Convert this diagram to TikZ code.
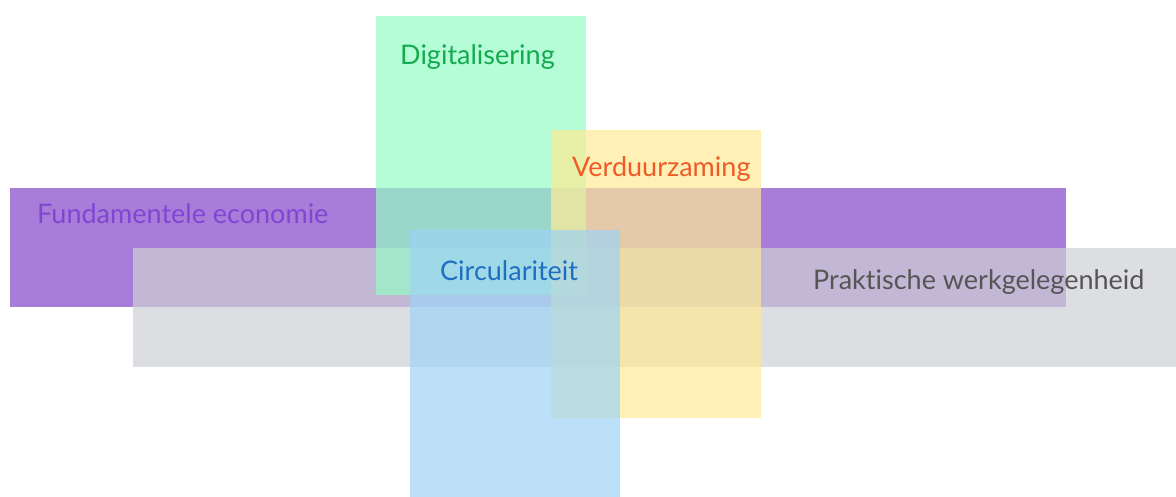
\documentclass[tikz,border=0pt]{standalone}
\usepackage{fontspec}
\setmainfont{Lato}[Ligatures=NoCommon]
\definecolor{paars}{RGB}{168,125,218}
\definecolor{grijs}{RGB}{206,208,212}
\definecolor{groen}{RGB}{149,252,196}
\definecolor{geel}{RGB}{255,235,149}
\definecolor{blauw}{RGB}{159,211,245}
\definecolor{tgroen}{RGB}{20,170,80}
\definecolor{toranje}{RGB}{240,90,40}
\definecolor{tpaars}{RGB}{128,70,210}
\definecolor{tblauw}{RGB}{30,110,195}
\definecolor{tgrijs}{RGB}{85,85,85}

\begin{document}
\begin{tikzpicture}[x=1pt,y=-1pt]
	\tikzstyle{vlak}=[inner sep=0pt,outer sep=0pt,anchor=north west,fill opacity=0.7]
	\tikzstyle{tekst}=[inner sep=0pt,anchor=base west,font=\fontsize{27}{31}\selectfont]

	\useasboundingbox (0,0) rectangle (1176,497);

	% vlakken, van onder naar boven
	\node [vlak,fill=paars,fill opacity=1,minimum width=1056pt,minimum height=119pt] (fund) at (10,188) {};
	\node [vlak,fill=grijs,minimum width=1043pt,minimum height=119pt] (prak) at (133,248) {};
	\node [vlak,fill=groen,minimum width=210pt,minimum height=279pt] (digi) at (376,16) {};
	\node [vlak,fill=geel,minimum width=210pt,minimum height=288pt] (verd) at (551,130) {};
	\node [vlak,fill=blauw,minimum width=210pt,minimum height=267pt] (circ) at (410,230) {};

	% teksten
	\node [tekst,text=tgroen] (tdigi) at (400,65) {Digitalisering};
	\node [tekst,text=toranje] (tverd) at (572,177) {Verduurzaming};
	\node [tekst,text=tpaars] (tfund) at (37,224) {Fundamentele economie};
	\node [tekst,text=tblauw] (tcirc) at (440,281) {Circulariteit};
	\node [tekst,text=tgrijs] (tprak) at (813,290) {Praktische werkgelegenheid};
\end{tikzpicture}
\end{document}
